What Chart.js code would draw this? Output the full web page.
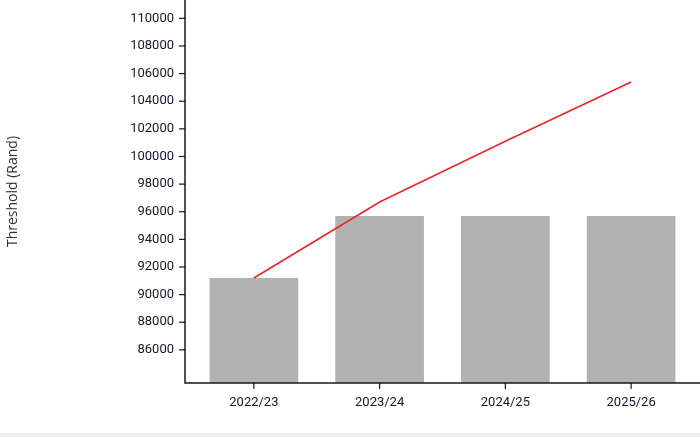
<!DOCTYPE html>
<html lang="en">
<head>
    <meta charset="UTF-8">
    <title>Threshold (Rand)</title>
    <style>
        body {
            margin: 0;
            background-color: #eeeeee;
        }
        .wrap {
            width: 700px;
            height: 433px;
            background-color: #fff;
        }
    </style>
</head>
<body>
    <div class="wrap">
        <canvas id="thresholdChart" width="700" height="433"></canvas>
    </div>

    <script src="https://cdn.jsdelivr.net/npm/chart.js"></script>
    <script>
        // data
        const categories = ['2022/23', '2023/24', '2024/25', '2025/26'];
        const barValues = [91200, 95700, 95700, 95700];
        const lineValues = [91200, 96700, 101100, 105400];
        const yTickValues = [86000, 88000, 90000, 92000, 94000, 96000, 98000, 100000, 102000, 104000, 106000, 108000, 110000];
        const yMin = 83600;
        const yMax = 111330;

        const axisColor = '#16162a';
        const tickFont = { family: 'Roboto', size: 13 };

        // axis lines sit a few pixels left of the plot, matplotlib style
        const axesPlugin = {
            id: 'offsetAxes',
            afterDraw(chart) {
                const { ctx, chartArea, scales } = chart;
                const ax = chartArea.left - 6;
                const ay = chartArea.bottom;
                ctx.save();
                ctx.strokeStyle = axisColor;
                ctx.lineWidth = 1.5;
                ctx.beginPath();
                ctx.moveTo(ax, 0);
                ctx.lineTo(ax, ay);
                ctx.lineTo(chart.width, ay);
                ctx.stroke();
                ctx.lineWidth = 1.2;
                yTickValues.forEach(v => {
                    const y = scales.y.getPixelForValue(v);
                    ctx.beginPath();
                    ctx.moveTo(ax - 6, y);
                    ctx.lineTo(ax, y);
                    ctx.stroke();
                });
                categories.forEach((c, i) => {
                    const x = scales.x.getPixelForValue(i);
                    ctx.beginPath();
                    ctx.moveTo(x, ay);
                    ctx.lineTo(x, ay + 6);
                    ctx.stroke();
                });
                ctx.restore();
            }
        };

        const ctx = document.getElementById('thresholdChart').getContext('2d');
        new Chart(ctx, {
            data: {
                labels: categories,
                datasets: [{
                    type: 'line',
                    data: lineValues,
                    borderColor: '#e8262a',
                    borderWidth: 1.6,
                    pointRadius: 0,
                    tension: 0,
                    order: 0
                }, {
                    type: 'bar',
                    data: barValues,
                    backgroundColor: '#b1b1b1',
                    barPercentage: 0.705,
                    categoryPercentage: 1,
                    order: 1
                }]
            },
            options: {
                responsive: false,
                animation: false,
                layout: { padding: { left: 0, right: 6, top: 0, bottom: 0 } },
                plugins: {
                    legend: { display: false },
                    tooltip: { enabled: false }
                },
                scales: {
                    x: {
                        grid: { display: false, drawTicks: false },
                        border: { display: false },
                        ticks: { color: axisColor, font: tickFont, padding: 12, maxRotation: 0 },
                        afterFit(scale) {
                            scale.height = 50;
                            scale.paddingLeft = 0;
                            scale.paddingRight = 0;
                        }
                    },
                    y: {
                        min: yMin,
                        max: yMax,
                        grid: { display: false, drawTicks: false },
                        border: { display: false },
                        afterBuildTicks(scale) {
                            scale.ticks = yTickValues.map(v => ({ value: v }));
                        },
                        ticks: {
                            color: axisColor,
                            font: tickFont,
                            padding: 17,
                            callback: v => String(v)
                        },
                        title: {
                            display: true,
                            text: 'Threshold (Rand)',
                            color: '#333',
                            font: { family: 'Open Sans', size: 14 },
                            padding: { top: 5, bottom: 0 }
                        },
                        afterFit(scale) {
                            scale.width = 191;
                            scale.paddingTop = 0;
                            scale.paddingBottom = 0;
                        }
                    }
                }
            },
            plugins: [axesPlugin]
        });
    </script>
</body>
</html>
